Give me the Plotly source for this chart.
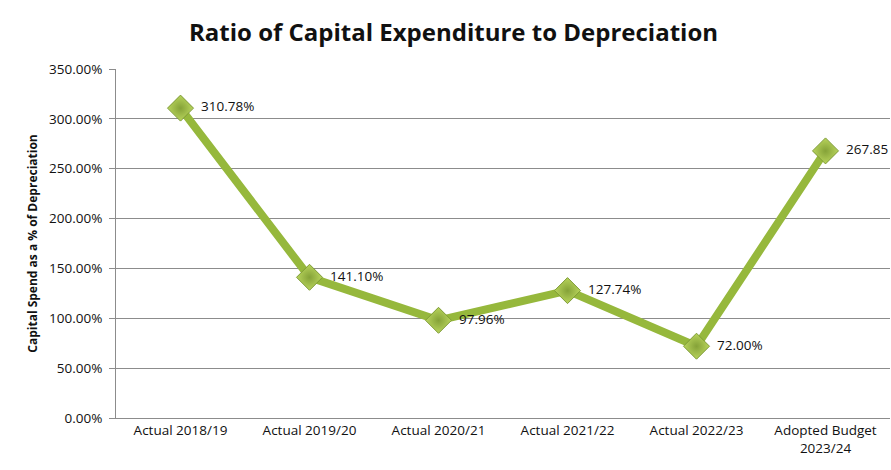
import plotly.graph_objects as go

# Capital expenditure as a share of depreciation, by financial year
periods = ["Actual 2018/19", "Actual 2019/20", "Actual 2020/21",
           "Actual 2021/22", "Actual 2022/23", "Adopted Budget<br>2023/24"]
ratio_pct = [310.78, 141.10, 97.96, 127.74, 72.00, 267.85]
y_ticks = [0, 50, 100, 150, 200, 250, 300, 350]

font_family = "Open Sans, Lato, sans-serif"

# value labels; the last one sits at the right edge, so it drops the % sign
labels = [f"  {v:.2f}%" for v in ratio_pct]
labels[-1] = f"  {ratio_pct[-1]:.2f}"

fig = go.Figure()
fig.add_trace(go.Scatter(
    x=periods,
    y=ratio_pct,
    mode="lines+markers+text",
    line=dict(color="#96B83C", width=8),
    marker=dict(
        symbol="diamond",
        size=20,
        color="#B8D45C",
        line=dict(color="#7E9B36", width=1),
        gradient=dict(type="radial", color="#85A238"),
    ),
    text=labels,
    textposition="middle right",
    textfont=dict(family=font_family, size=13.5, color="#111111"),
    cliponaxis=False,
    hoverinfo="skip",
))

fig.update_layout(
    width=891,
    height=470,
    margin=dict(l=116, r=1, t=69, b=52),
    paper_bgcolor="white",
    plot_bgcolor="white",
    showlegend=False,
    title=dict(
        text="<b>Ratio of Capital Expenditure to Depreciation</b>",
        x=0.509, xanchor="center",
        y=0.93, yanchor="middle",
        font=dict(family=font_family, size=24, color="#111111"),
    ),
    font=dict(family=font_family, size=13, color="#111111"),
)

fig.update_xaxes(
    type="category",
    showgrid=False,
    showline=True,
    linecolor="#8C8C8C",
    linewidth=1,
    ticks="",
    tickfont=dict(family=font_family, size=13.5, color="#111111"),
    range=[-0.5, 5.5],
)

fig.update_yaxes(
    range=[0, 350],
    tickvals=y_ticks,
    ticktext=[f"{v:.2f}%" for v in y_ticks],
    showgrid=True,
    gridcolor="#8C8C8C",
    gridwidth=1,
    showline=True,
    linecolor="#8C8C8C",
    linewidth=1,
    ticks="outside",
    ticklen=6,
    tickcolor="#8C8C8C",
    ticklabelstandoff=4,
    zeroline=False,
    tickfont=dict(family=font_family, size=13.5, color="#111111"),
    title=dict(
        text="<b>Capital Spend as a % of Depreciation</b>",
        font=dict(family=font_family, size=12, color="#111111"),
        standoff=8,
    ),
)

fig.write_html("out.html")
